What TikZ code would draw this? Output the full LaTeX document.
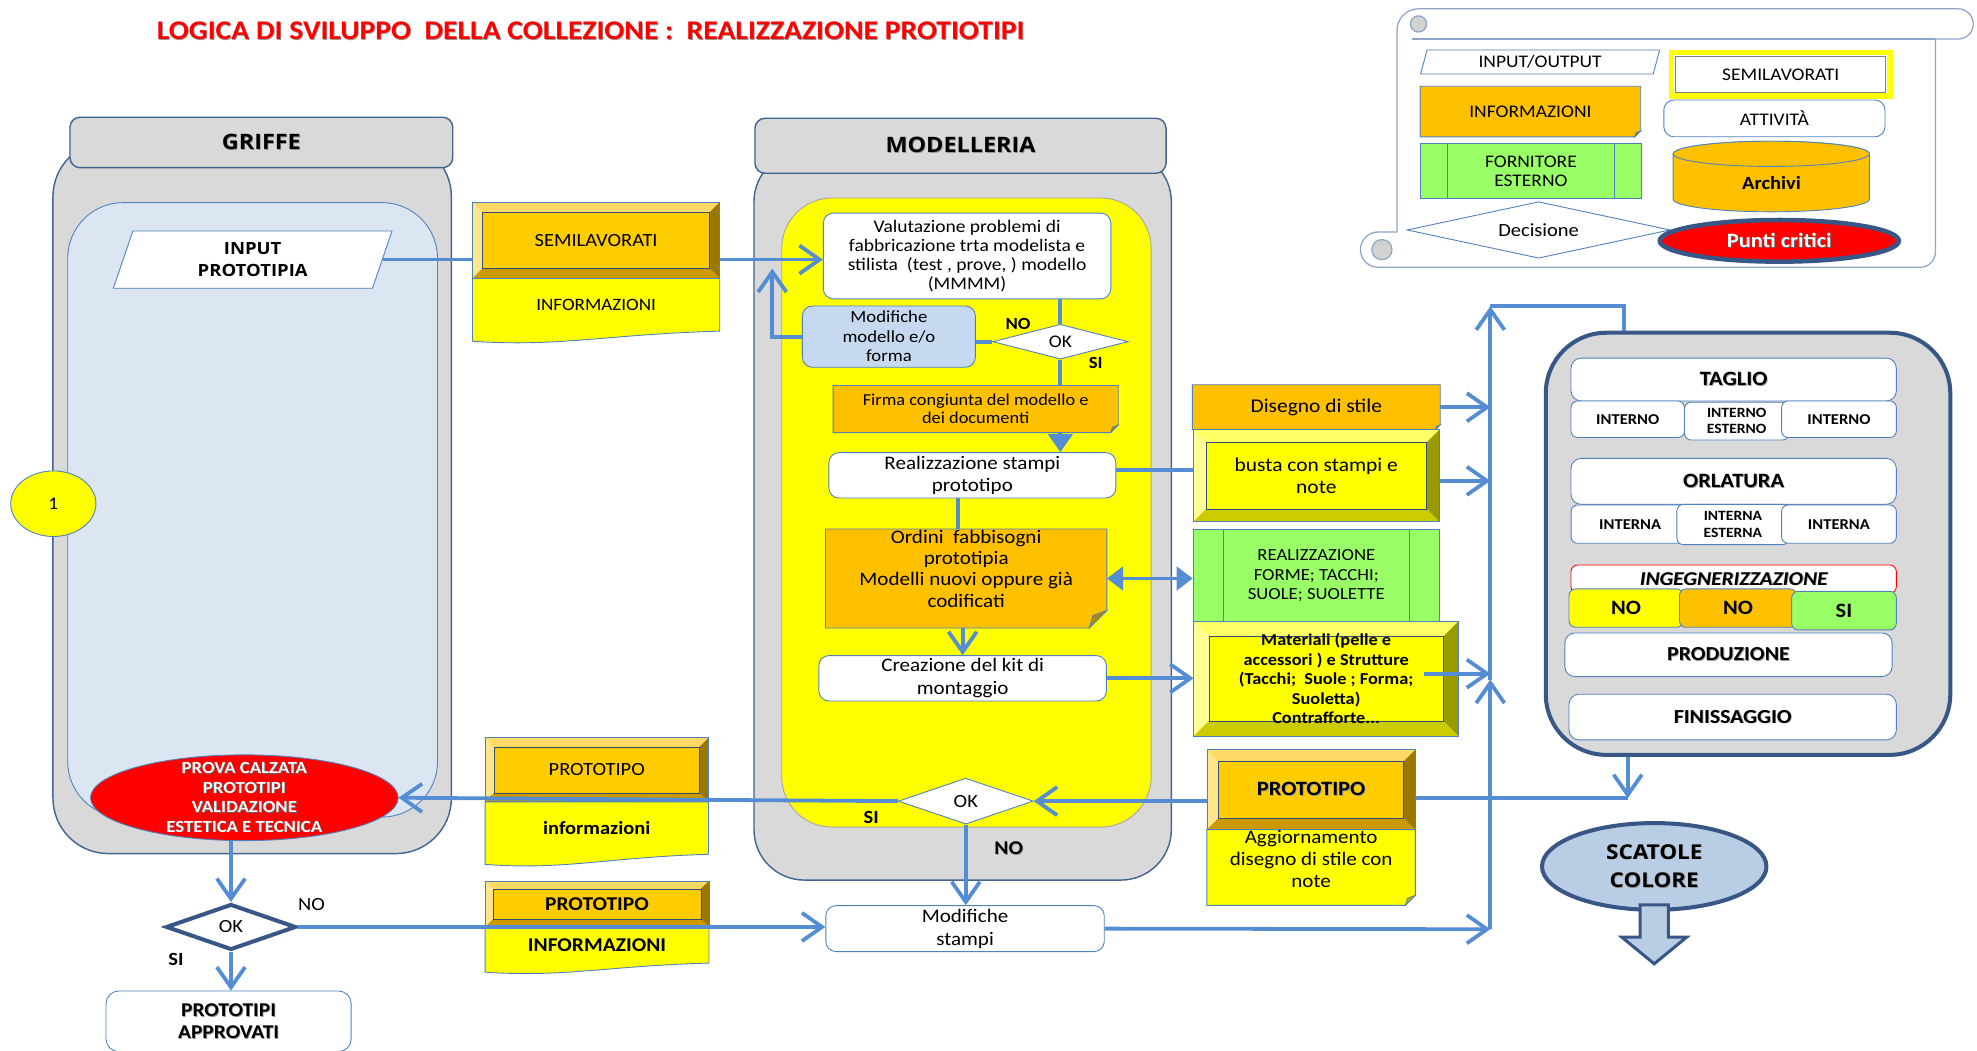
\documentclass[tikz,border=0pt]{standalone}
\usepackage{fontspec}
\setmainfont{Carlito}[FakeStretch=1.1]
\newfontfamily\largo{Open Sans}[FakeStretch=1.1]
\usetikzlibrary{positioning,shapes.geometric,arrows.meta,calc}

\definecolor{grigio}{RGB}{217,217,217}
\definecolor{azzurro}{RGB}{220,230,242}
\definecolor{celeste}{RGB}{198,217,241}
\definecolor{scatola}{RGB}{185,205,229}
\definecolor{arancio}{RGB}{255,192,0}
\definecolor{verde}{RGB}{153,255,102}
\definecolor{rosso}{RGB}{255,0,0}
\definecolor{bordo}{RGB}{79,129,189}
\definecolor{bordocorsia}{RGB}{65,100,145}
\definecolor{bordoscuro}{RGB}{56,87,135}
\definecolor{frecciacol}{RGB}{84,141,212}
\definecolor{legenda}{RGB}{143,165,200}
% facce dei riquadri smussati
\definecolor{oro}{RGB}{255,204,0}
\definecolor{orochiaro}{RGB}{255,217,102}
\definecolor{orolato}{RGB}{255,230,140}
\definecolor{oroscuro}{RGB}{153,119,0}
\definecolor{oromedio}{RGB}{204,153,0}
\definecolor{giallo}{RGB}{255,255,0}
\definecolor{giallochiaro}{RGB}{255,255,102}
\definecolor{giallolato}{RGB}{255,255,150}
\definecolor{gialloscuro}{RGB}{153,153,0}
\definecolor{giallomedio}{RGB}{204,204,0}

\newcommand{\fsz}[2]{\fontsize{#1}{#2}\selectfont}
\newcommand{\ombra}[2][black!40]{\leavevmode\rlap{\kern0.45pt\raisebox{-0.45pt}{\textcolor{#1}{#2}}}#2}

\pgfdeclarelayer{corsie}
\pgfdeclarelayer{forme}
\pgfsetlayers{corsie,forme,main}

% nota con angolo piegato: nodo, colore, piega
\newcommand{\nota}[3]{%
  \begin{pgfonlayer}{forme}
    \filldraw[fill=#2, draw=bordo, line width=0.5pt] (#1.north west) -- (#1.north east) -- ([yshift=#3]#1.south east) -- ([xshift=-#3]#1.south east) -- (#1.south west) -- cycle;
    \filldraw[fill=#2!70!black, draw=bordo, line width=0.4pt] ([yshift=#3]#1.south east) -- ([xshift=-#3]#1.south east) -- ([shift={(-0.8*#3,0.7*#3)}]#1.south east) -- cycle;
  \end{pgfonlayer}}
% documento con bordo inferiore ondulato: nodo, colore, onda
\newcommand{\documento}[3]{%
  \begin{pgfonlayer}{forme}
    \filldraw[fill=#2, draw=bordo, line width=0.5pt] (#1.north west) -- (#1.north east) -- (#1.south east)
      .. controls ($(#1.south east)!0.45!(#1.south west)+(0,-0.3*#3)$) and ($(#1.south west)!0.35!(#1.south east)+(0,-1.6*#3)$) .. ([yshift=-#3]#1.south west) -- cycle;
  \end{pgfonlayer}}
% riquadro smussato: nodo, colore, spessore
\newcommand{\smusso}[3]{%
  \begin{pgfonlayer}{forme}
    \fill[#2] (#1.south west) rectangle (#1.north east);
    \fill[#2chiaro] (#1.north west) -- (#1.north east) -- ([shift={(-#3,-#3)}]#1.north east) -- ([shift={(#3,-#3)}]#1.north west) -- cycle;
    \fill[#2lato] (#1.north west) -- ([shift={(#3,-#3)}]#1.north west) -- ([shift={(#3,#3)}]#1.south west) -- (#1.south west) -- cycle;
    \fill[#2scuro] (#1.north east) -- ([shift={(-#3,-#3)}]#1.north east) -- ([shift={(-#3,#3)}]#1.south east) -- (#1.south east) -- cycle;
    \fill[#2medio] (#1.south west) -- ([shift={(#3,#3)}]#1.south west) -- ([shift={(-#3,#3)}]#1.south east) -- (#1.south east) -- cycle;
    \draw[bordo!60!black, line width=0.3pt] ([shift={(#3,#3)}]#1.south west) rectangle ([shift={(-#3,-#3)}]#1.north east);
    \draw[bordo, line width=0.5pt] (#1.south west) rectangle (#1.north east);
  \end{pgfonlayer}}

\tikzset{
  forma/.style={rectangle, inner sep=1pt, align=center},
  attivita/.style={rectangle, rounded corners=2mm, draw=bordo, line width=0.5pt, fill=white, inner sep=1pt, align=center},
  cella/.style={attivita, rounded corners=1.3mm, font=\bfseries\fsz{8.5}{10}},
  decisione/.style={diamond, aspect=3, draw=bordo, line width=0.5pt, fill=white, inner sep=0pt},
  fornitore/.style={rectangle, draw=bordo, line width=0.5pt, fill=verde, inner sep=1pt, align=center,
    path picture={\draw[bordo, line width=0.5pt] ([xshift=#1]path picture bounding box.north west) -- ([xshift=#1]path picture bounding box.south west)
      ([xshift=-#1]path picture bounding box.north east) -- ([xshift=-#1]path picture bounding box.south east);}},
  fornitore/.default=6mm,
  testata/.style={rectangle, rounded corners=2mm, draw=bordocorsia, line width=0.8pt, fill=grigio, font=\largo\bfseries\fsz{12}{14}},
  parallelo/.style={trapezium, trapezium left angle=75, trapezium right angle=105, trapezium stretches=true, draw=bordo, line width=0.5pt, fill=white, inner sep=0pt, align=center},
  etichetta/.style={inner sep=0pt, font=\bfseries\fsz{9.6}{11}},
  linea/.style={draw=frecciacol, line width=0.75mm},
  freccia/.style={linea, -{Straight Barb[length=4mm,width=5.6mm]}},
  piena/.style={linea, -{Triangle[length=3.6mm,width=4.8mm]}},
}

\begin{document}
\begin{tikzpicture}[x=0.25mm, y=-0.25mm]
\useasboundingbox (0,0) rectangle (1568,833);

\node[font=\bfseries\fsz{15.2}{18}, text=rosso] (titolo) at (468.5,25) {\ombra{LOGICA DI SVILUPPO\ \ DELLA COLLEZIONE :\ \ REALIZZAZIONE PROTIOTIPI}};

% corsie e pannelli
\begin{pgfonlayer}{corsie}
  \filldraw[fill=grigio, draw=bordocorsia, line width=0.8pt, rounded corners=11mm] (42,112) rectangle (358,677);
  \filldraw[fill=azzurro, draw=bordo, line width=0.5pt, rounded corners=11mm] (53.7,160.7) rectangle (347,648);
  \filldraw[fill=grigio, draw=bordocorsia, line width=0.8pt, rounded corners=10mm] (598,120) rectangle (929,698);
  \filldraw[fill=giallo, draw=gray!70, line width=0.5pt, rounded corners=10mm] (620,157) rectangle (913,656);
  % legenda a pergamena
  \filldraw[fill=white, draw=legenda, line width=0.7pt] (1108,184) -- (1108,24) arc[start angle=180, end angle=90, radius=4.25mm] -- (1553,7)
    arc[start angle=90, end angle=-90, radius=3mm] -- (1535,31) -- (1535,200) arc[start angle=0, end angle=-90, radius=3mm] -- (1093,212)
    arc[start angle=-90, end angle=-270, radius=3.5mm] -- cycle;
  \draw[legenda, line width=0.7pt] (1120,31) -- (1535,31);
  \filldraw[fill=gray!35, draw=legenda, line width=0.7pt] (1125,19) circle[radius=1.6mm];
  \filldraw[fill=gray!35, draw=legenda, line width=0.7pt] (1096,198) circle[radius=2mm];
\end{pgfonlayer}

% legenda
\node[parallelo, minimum width=47.5mm, minimum height=4.75mm, font=\fsz{10}{11}] (lio) at (1221.5,49.2) {INPUT/OUTPUT};
\node[forma, draw=giallo, line width=1.1mm, fill=white, minimum width=43.25mm, minimum height=8.6mm, font=\fsz{10}{11},
  path picture={\draw[gray, line width=0.5pt] ([shift={(0.8mm,0.8mm)}]path picture bounding box.south west) rectangle ([shift={(-0.8mm,-0.8mm)}]path picture bounding box.north east);}] (lsemi) at (1412.3,59) {SEMILAVORATI};
\node[forma, minimum width=43.6mm, minimum height=9.9mm, font=\fsz{10}{11}] (linfo) at (1213.8,88.5) {INFORMAZIONI};
\nota{linfo}{arancio}{1.2mm}
\node[attivita, minimum width=43.85mm, minimum height=7.3mm, font=\fsz{10}{11}] (latt) at (1407.3,93.9) {ATTIVITÀ};
\node[fornitore=5.4mm, minimum width=43.8mm, minimum height=10.8mm, font=\fsz{10}{11}] (lforn) at (1214.2,135.7) {FORNITORE\\ESTERNO};
\begin{pgfonlayer}{forme}
  \filldraw[fill=arancio, draw=bordo, line width=0.5pt] (1327,122) -- (1327,158) arc[start angle=180, end angle=360, x radius=19.45mm, y radius=2.5mm]
    -- (1482.7,122) arc[start angle=0, end angle=180, x radius=19.45mm, y radius=2.5mm] -- cycle;
  \filldraw[fill=arancio, draw=bordo, line width=0.5pt] (1404.85,122) ellipse[x radius=19.45mm, y radius=2.5mm];
\end{pgfonlayer}
\node[forma, font=\bfseries\fsz{10.5}{12}] (larch) at (1405,145) {Archivi};
\node[decisione, minimum width=52.15mm, minimum height=11.2mm, font=\fsz{10.5}{12}] (ldec) at (1220.3,182.4) {Decisione};
\node[ellipse, draw=bordoscuro, line width=0.9mm, fill=rosso, minimum width=47.4mm, minimum height=8.25mm, inner sep=0pt, text=white, font=\bfseries\fsz{11.5}{13}] (lpunti) at (1411.2,191) {\ombra[black!60]{Punti critici}};

% GRIFFE
\node[testata, minimum width=75.9mm, minimum height=10mm] (hgriffe) at (207.3,113) {\ombra{GRIFFE}};
\node[parallelo, minimum width=55.5mm, minimum height=11.35mm, font=\largo\bfseries\fsz{9.5}{12}] (input) at (200.4,205.9) {INPUT\\PROTOTIPIA};
\node[ellipse, draw=bordo, line width=0.5pt, fill=giallo, minimum width=16.9mm, minimum height=13mm, inner sep=0pt, font=\fsz{10}{12}] (uno) at (42.3,399.5) {1};
\node[ellipse, draw=bordo, line width=0.5pt, fill=rosso, minimum width=61mm, minimum height=17mm, inner xsep=0pt, inner ysep=-3mm, text=white, align=center, font=\bfseries\fsz{9.6}{11}] (prova) at (193.8,632.7)
  {\ombra[black!60]{PROVA CALZATA}\\\ombra[black!60]{PROTOTIPI}\\\ombra[black!60]{VALIDAZIONE}\\\ombra[black!60]{ESTETICA E TECNICA}};
\node[decisione, draw=bordoscuro, line width=0.8mm, minimum width=25.8mm, minimum height=9.1mm, font=\fsz{10.5}{12}] (d3) at (183.2,735.2) {OK};
\node[attivita, rounded corners=2.5mm, minimum width=48.6mm, minimum height=12mm, font=\bfseries\fsz{11}{12.4}] (approvati) at (181.3,810) {\ombra{PROTOTIPI}\\\ombra{APPROVATI}};
\node[inner sep=0pt, font=\fsz{10.5}{12}] (nod3) at (247,717.7) {NO};
\node[etichetta, font=\bfseries\fsz{10.5}{12}] (sid3) at (139.6,761.3) {SI};

% flussi informativi centrali
\node[forma, minimum width=48.9mm, minimum height=15mm, font=\fsz{10.5}{12}] (semi) at (472.8,190.6) {SEMILAVORATI};
\smusso{semi}{oro}{2mm}
\node[forma, below=0pt of semi, minimum width=48.9mm, minimum height=10.3mm, font=\fsz{9.8}{11}] (semiinfo) {INFORMAZIONI};
\documento{semiinfo}{giallo}{2mm}
\node[forma, minimum width=44.15mm, minimum height=12.55mm, font=\fsz{10.5}{12}] (protob) at (473.3,610.6) {PROTOTIPO};
\smusso{protob}{oro}{1.8mm}
\node[forma, below=0pt of protob, minimum width=44.15mm, minimum height=10.25mm, font=\bfseries\fsz{10.5}{12}] (protodoc) {informazioni};
\documento{protodoc}{giallo}{2mm}
\node[forma, minimum width=44.25mm, minimum height=9mm, font=\bfseries\fsz{11}{12}] (proto2) at (473.5,717) {PROTOTIPO};
\smusso{proto2}{oro}{1.6mm}
\node[forma, below=0pt of proto2, minimum width=44.25mm, minimum height=7mm, font=\bfseries\fsz{11}{12}] (info2) {INFORMAZIONI};
\documento{info2}{giallo}{1.8mm}

% MODELLERIA
\node[testata, minimum width=81.5mm, minimum height=10.9mm] (hmodel) at (761.8,115.6) {\ombra{MODELLERIA}};
\node[attivita, minimum width=57mm, minimum height=17mm, font=\fsz{10}{10.7}] (valut) at (767,203)
  {Valutazione problemi di\\fabbricazione trta modelista e\\stilista\ \ (test , prove, ) modello\\(MMMM)};
\node[attivita, fill=celeste, minimum width=34.3mm, minimum height=12.15mm, font=\fsz{9.6}{11}] (modmod) at (705,267) {Modifiche\\modello e/o\\forma};
\node[decisione, minimum width=26.8mm, minimum height=6.9mm, font=\fsz{10}{11}] (d1) at (841,271) {OK};
\node[etichetta] (nod1) at (807.5,257) {NO};
\node[etichetta] (sid1) at (869,288) {SI};
\node[forma, minimum width=56.4mm, minimum height=9.2mm, font=\fsz{9.4}{10}] (firma) at (773.8,324.4) {Firma congiunta del modello e\\dei documenti};
\nota{firma}{arancio}{1.5mm}
\node[attivita, minimum width=56.9mm, minimum height=9mm, font=\fsz{10.8}{12.8}] (real) at (771.2,377) {Realizzazione stampi\\prototipo};
\node[forma, inner ysep=0pt, text depth=3.9mm, minimum width=55.65mm, minimum height=19.5mm, font=\fsz{10.8}{12}] (ordini) at (766.3,458.8) {Ordini\ \ fabbisogni\\prototipia\\Modelli nuovi oppure già\\codificati};
\nota{ordini}{arancio}{3.5mm}
\node[attivita, minimum width=57mm, minimum height=9mm, font=\fsz{10.8}{12.8}] (crea) at (763.5,538) {Creazione del kit di\\montaggio};
\node[decisione, minimum width=26.75mm, minimum height=9.1mm, font=\fsz{10.5}{12}] (d2) at (766,635.4) {OK};
\node[etichetta, font=\bfseries\fsz{10.5}{12}] (sid2) at (691,648) {SI};
\node[etichetta, font=\bfseries\fsz{11}{12}] (nod2) at (800,673) {\ombra{NO}};
\node[attivita, minimum width=55.2mm, minimum height=9.1mm, font=\fsz{10.8}{12.8}] (modst) at (765.4,736.5) {Modifiche\\stampi};

% fornitori e materiali
\node[forma, minimum width=49mm, minimum height=8.8mm, font=\fsz{11}{13}] (disegno) at (1044,323) {Disegno di stile};
\nota{disegno}{arancio}{1mm}
\node[forma, below=0pt of disegno, minimum width=48.65mm, minimum height=18.1mm, font=\fsz{11}{12.8}] (busta) {busta con stampi e\\note};
\smusso{busta}{giallo}{2.5mm}
\node[fornitore, minimum width=48.8mm, minimum height=18.25mm, font=\fsz{9.6}{11}] (forme) at (1044,456.5) {REALIZZAZIONE\\FORME; TACCHI;\\SUOLE; SUOLETTE};
\node[forma, minimum width=52.4mm, minimum height=22.7mm, font=\bfseries\fsz{9.4}{11}] (mat) at (1051.8,538.3)
  {Materiali (pelle e\\accessori ) e Strutture\\(Tacchi;\ \ Suole ; Forma;\\Suoletta)\\Contrafforte...};
\smusso{mat}{giallo}{3mm}
\node[forma, minimum width=41.15mm, minimum height=15.7mm, font=\bfseries\fsz{11.5}{13}] (proto) at (1039.9,626.3) {\ombra{PROTOTIPO}};
\smusso{proto}{oro}{2.3mm}
\node[forma, below=0pt of proto, inner ysep=0pt, text depth=3.4mm, minimum width=41.2mm, minimum height=14.8mm, font=\fsz{10.8}{12.6}] (aggiorn) {Aggiornamento\\disegno di stile con\\note};
\nota{aggiorn}{giallo}{2mm}

% produzione
\node[rectangle, rounded corners=12mm, draw=bordoscuro, line width=0.8mm, fill=grigio, minimum width=80.2mm, minimum height=83.7mm] (prod) at (1386.4,431.3) {};
\node[attivita, minimum width=64.5mm, minimum height=8.5mm, font=\bfseries\fsz{11.5}{13}] (taglio) at (1375,301) {\ombra{TAGLIO}};
\node[cella, minimum width=22.5mm, minimum height=7.25mm] (int1) at (1291,332.5) {INTERNO};
\node[cella, minimum width=20.7mm, minimum height=7.5mm, font=\bfseries\fsz{8}{9.2}] (int2) at (1377.4,334) {INTERNO\\ESTERNO};
\node[cella, minimum width=22.75mm, minimum height=7.25mm] (int3) at (1458.5,332.5) {INTERNO};
\node[attivita, minimum width=64.5mm, minimum height=9.1mm, font=\bfseries\fsz{11.5}{13}] (orlatura) at (1375,381.8) {\ombra{ORLATURA}};
\node[cella, minimum width=23.4mm, minimum height=7.6mm] (ina1) at (1292.9,415.7) {INTERNA};
\node[cella, minimum width=22.2mm, minimum height=8mm, font=\bfseries\fsz{8}{9.2}] (ina2) at (1374.4,416) {INTERNA\\ESTERNA};
\node[cella, minimum width=22.75mm, minimum height=7.6mm] (ina3) at (1458.5,415.7) {INTERNA};
\node[attivita, rounded corners=1.3mm, draw=rosso, minimum width=64.5mm, minimum height=5.6mm, font=\bfseries\itshape\fsz{11}{12}] (inge) at (1375,459.3) {\ombra{INGEGNERIZZAZIONE}};
\node[cella, fill=giallo, minimum width=22.65mm, minimum height=7.6mm, font=\bfseries\fsz{11.5}{13}] (no1) at (1289.7,482.3) {NO};
\node[cella, fill=arancio, minimum width=23.25mm, minimum height=7.6mm, font=\bfseries\fsz{11.5}{13}] (no2) at (1378.5,482.3) {NO};
\node[cella, fill=verde, minimum width=20.75mm, minimum height=7.65mm, font=\bfseries\fsz{11.5}{13}] (si) at (1462.5,484.3) {SI};
\node[attivita, minimum width=64.9mm, minimum height=8.65mm, font=\bfseries\fsz{11.2}{13}] (produz) at (1370.9,519.3) {\ombra{PRODUZIONE}};
\node[attivita, minimum width=64.9mm, minimum height=9.05mm, font=\bfseries\fsz{11.2}{13}] (finiss) at (1374.2,568.7) {\ombra{FINISSAGGIO}};

\node[ellipse, draw=bordoscuro, line width=0.8mm, fill=scatola, minimum width=44.5mm, minimum height=17.2mm, inner sep=0pt, align=center, font=\largo\bfseries\fsz{11.5}{16}] (scatole) at (1312,687.2) {\ombra{SCATOLE}\\\ombra{COLORE}};
\filldraw[fill=scatola, draw=bordoscuro, line width=0.6mm] ([shift={(-2.8mm,1.4mm)}]scatole.south) -- ++(0,-6.4mm) -- ++(-3.65mm,0) -- ++(6.45mm,-5.3mm) -- ++(6.45mm,5.3mm) -- ++(-3.65mm,0) -- ++(0,6.4mm) -- cycle;

% collegamenti
\coordinate (ritorno) at (612.5,213);
\coordinate (bus0) at (1182,737);
\coordinate (bus1) at (1182,539);
\coordinate (bus2) at (1182,243);
\coordinate (bus3) at (1288,243);
\coordinate (pjoin) at (1291,633);

\draw[linea] (input.east) -- (input.east -| semi.west);
\draw[freccia] (semi.east |- input.east) -- (input.east -| valut.west);
\draw[linea] (d1.north |- valut.south) -- (d1.north);
\draw[linea] (d1.west) -- (d1.west -| modmod.east);
\draw[freccia] (modmod.west) -| (ritorno);
\draw[linea] (d1.south) -- (d1.south |- firma.north);
\draw[piena] (firma.south -| d1.south) -- (real.north -| d1.south);
\draw[linea] ([xshift=-2.8mm]real.south) -- ([xshift=-2.8mm]real.south |- ordini.north);
\draw[freccia] (ordini.south -| crea.north) -- (crea.north);
\draw[linea] ([yshift=1mm]real.east) -- ([yshift=1mm]real.east -| busta.west);
\draw[linea, {Triangle[length=3.2mm,width=4.6mm]}-{Triangle[length=3.2mm,width=4.6mm]}] (ordini.east) -- (ordini.east -| forme.west);
\draw[freccia] (crea.east) -- (crea.east -| mat.west);

\draw[freccia] (disegno.east) -- (disegno.east -| bus0);
\draw[freccia] ([yshift=-1mm]busta.east) -- ([yshift=-1mm]busta.east -| bus0);
\draw[freccia] ([shift={(-6.8mm,1mm)}]mat.east) -- ([yshift=1mm]mat.east -| bus0);
\draw[freccia] (modst.east) -- (bus0);
\draw[freccia] (bus0) -- (bus1);
\draw[freccia] (bus1) -- (bus2);
\draw[linea] (bus2) -- (bus3) -- (bus3 |- prod.north);
\draw[freccia] (prod.south -| pjoin) -- (pjoin);
\draw[linea] (proto.east |- pjoin) -- (pjoin);

\draw[freccia] (d2.east -| proto.west) -- (d2.east);
\draw[freccia] (d2.west) -- (prova.east);
\draw[freccia] (d2.south) -- (d2.south |- modst.north);
\draw[freccia] (prova.south -| d3.north) -- (d3.north);
\draw[freccia] (d3.south) -- (d3.south |- approvati.north);
\draw[freccia] (d3.east) -- (d3.east -| modst.west);
\end{tikzpicture}
\end{document}
